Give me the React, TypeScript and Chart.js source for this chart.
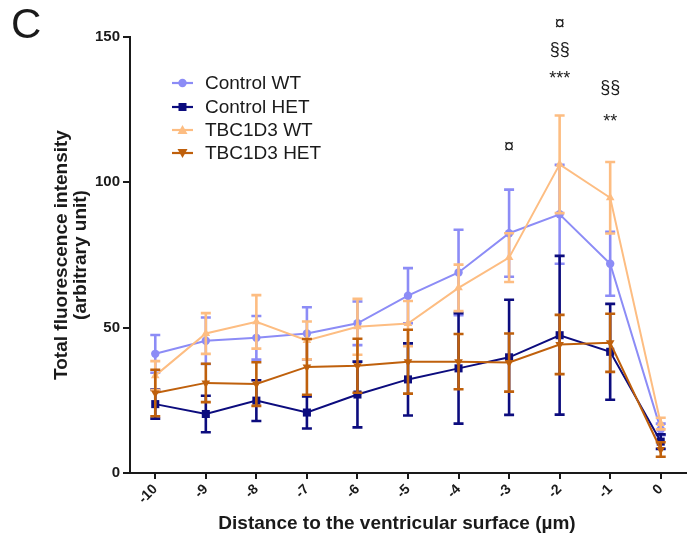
import React, { useEffect, useRef } from 'react';
import { Chart, registerables } from 'chart.js';

Chart.register(...registerables);

// ---- data ----
const labels = ['-10', '-9', '-8', '-7', '-6', '-5', '-4', '-3', '-2', '-1', '0'];

const controlWT = [41, 45.5, 46.5, 48, 51.5, 61, 69, 82.5, 89, 72, 15];
const controlWTErr = [6.5, 8, 7.5, 9, 7.5, 9.5, 14.7, 15, 17, 11, 2];

const controlHET = [23.7, 20.3, 24.9, 20.8, 27, 32.2, 36, 39.8, 47.4, 41.7, 10.8];
const controlHETErr = [5, 6.3, 7, 5.5, 11.3, 12.4, 19, 19.8, 27.3, 16.5, 2.5];

const tbcWT = [33.5, 48, 52, 45.6, 50.3, 51.4, 63.7, 74.1, 106.2, 94.7, 17];
const tbcWTErr = [5, 7, 9.2, 6.5, 9.6, 7.8, 8, 8.4, 16.8, 12.3, 2];

const tbcHET = [27.5, 31, 30.6, 36.5, 36.9, 38.3, 38.3, 38, 44.2, 44.8, 8.1];
const tbcHETErr = [8, 6.6, 7.5, 9.6, 9.3, 11, 9.5, 10, 10.2, 10, 2.5];

const seriesNames = ['Control WT', 'Control HET', 'TBC1D3 WT', 'TBC1D3 HET'];
const seriesColors = ['#8c8cf6', '#0c0c7e', '#fdbd82', '#bf600c'];

const yTicks = [0, 50, 100, 150];

const annotText = ['¤', '¤', '§§', '***', '§§', '**'];
const annotX = ['-3', '-2', '-2', '-2', '-1', '-1'];
const annotY = [112, 154.6, 145.4, 135.6, 132.3, 120.8];

const xTitle = 'Distance to the ventricular surface (µm)';
const yTitle = ['Total fluorescence intensity', '(arbitrary unit)'];
const panelLetter = 'C';

const FONT = '"Liberation Sans", Arial, Helvetica, sans-serif';
const INK = '#1a1a1a';

function drawMarker(ctx: CanvasRenderingContext2D, style: string, x: number, y: number, color: string) {
  ctx.save();
  ctx.fillStyle = color;
  ctx.beginPath();
  if (style === 'circle') {
    ctx.arc(x, y, 4.2, 0, Math.PI * 2);
  } else if (style === 'rect') {
    ctx.rect(x - 4, y - 4, 8, 8);
  } else if (style === 'up') {
    ctx.moveTo(x, y - 5);
    ctx.lineTo(x + 5, y + 4);
    ctx.lineTo(x - 5, y + 4);
    ctx.closePath();
  } else {
    ctx.moveTo(x, y + 5);
    ctx.lineTo(x + 5, y - 4);
    ctx.lineTo(x - 5, y - 4);
    ctx.closePath();
  }
  ctx.fill();
  ctx.restore();
}

const markerStyles = ['circle', 'rect', 'up', 'down'];

const errorBarPlugin = {
  id: 'errorBars',
  beforeDatasetDraw(chart: any, args: any) {
    const ds = chart.data.datasets[args.index];
    const err: number[] = ds.errors;
    if (!err) return;
    const ys = chart.scales.y;
    const ctx: CanvasRenderingContext2D = chart.ctx;
    ctx.save();
    ctx.strokeStyle = ds.borderColor;
    ctx.lineWidth = 2.6;
    args.meta.data.forEach((pt: any, i: number) => {
      const v = ds.data[i];
      const e = err[i];
      const x = pt.x;
      const yt = ys.getPixelForValue(v + e);
      const yb = ys.getPixelForValue(v - e);
      ctx.beginPath();
      ctx.moveTo(x, yt);
      ctx.lineTo(x, yb);
      ctx.moveTo(x - 5, yt);
      ctx.lineTo(x + 5, yt);
      ctx.moveTo(x - 5, yb);
      ctx.lineTo(x + 5, yb);
      ctx.stroke();
    });
    ctx.restore();
  },
};

const decorPlugin = {
  id: 'decor',
  afterDraw(chart: any) {
    const ctx: CanvasRenderingContext2D = chart.ctx;
    const xs = chart.scales.x;
    const ys = chart.scales.y;
    ctx.save();
    ctx.fillStyle = INK;

    // panel letter
    ctx.font = `42px ${FONT}`;
    ctx.textAlign = 'left';
    ctx.textBaseline = 'alphabetic';
    ctx.fillText(panelLetter, 11, 38);

    // y title (two lines, rotated)
    ctx.font = `bold 19px ${FONT}`;
    ctx.textAlign = 'center';
    ctx.textBaseline = 'middle';
    const cy = 255;
    [62, 81].forEach((x, i) => {
      ctx.save();
      ctx.translate(x, cy);
      ctx.rotate(-Math.PI / 2);
      ctx.fillText(yTitle[i], 0, 0);
      ctx.restore();
    });

    // x title
    ctx.font = `bold 19px ${FONT}`;
    ctx.textAlign = 'center';
    ctx.textBaseline = 'alphabetic';
    ctx.fillText(xTitle, 397, 529);

    // annotations
    ctx.font = `18px ${FONT}`;
    ctx.textAlign = 'center';
    ctx.textBaseline = 'middle';
    annotText.forEach((t, i) => {
      const x = xs.getPixelForValue(labels.indexOf(annotX[i]));
      const y = ys.getPixelForValue(annotY[i]);
      ctx.fillText(t, x, y);
    });

    // legend
    ctx.font = `19px ${FONT}`;
    ctx.textAlign = 'left';
    ctx.textBaseline = 'middle';
    const rows = [83, 107, 130, 153];
    seriesNames.forEach((name, i) => {
      const y = rows[i];
      ctx.strokeStyle = seriesColors[i];
      ctx.lineWidth = 2.2;
      ctx.beginPath();
      ctx.moveTo(172, y);
      ctx.lineTo(193, y);
      ctx.stroke();
      drawMarker(ctx, markerStyles[i], 182.5, y, seriesColors[i]);
      ctx.fillStyle = INK;
      ctx.fillText(name, 205, y + 1);
    });
    ctx.restore();
  },
};

export default function App() {
  const ref = useRef<HTMLCanvasElement | null>(null);

  useEffect(() => {
    document.body.style.margin = '0';
    const canvas = ref.current;
    if (!canvas) return;

    const mk = (label: string, data: number[], errors: number[], color: string, style: string, rot: number, radius: number, order: number) => ({
      label,
      data,
      errors,
      borderColor: color,
      backgroundColor: color,
      borderWidth: 2,
      pointStyle: style,
      pointRotation: rot,
      pointRadius: radius,
      pointBorderWidth: 0,
      pointBackgroundColor: color,
      tension: 0,
      order,
      clip: false,
    });

    const chart = new Chart(canvas, {
      type: 'line',
      data: {
        labels,
        datasets: [
          mk(seriesNames[0], controlWT, controlWTErr, seriesColors[0], 'circle', 0, 4.2, 4),
          mk(seriesNames[1], controlHET, controlHETErr, seriesColors[1], 'rect', 0, 5.7, 3),
          mk(seriesNames[2], tbcWT, tbcWTErr, seriesColors[2], 'triangle', 0, 5, 2),
          mk(seriesNames[3], tbcHET, tbcHETErr, seriesColors[3], 'triangle', 180, 5, 1),
        ] as any,
      },
      options: {
        responsive: false,
        animation: false,
        devicePixelRatio: 1,
        layout: { padding: { top: 37, right: 7, left: 0, bottom: 0 } },
        plugins: {
          legend: { display: false },
          tooltip: { enabled: false },
        },
        scales: {
          x: {
            type: 'category',
            offset: true,
            grid: {
              display: true,
              offset: false,
              drawOnChartArea: false,
              drawTicks: true,
              tickLength: 6,
              color: INK,
              lineWidth: 2,
            },
            border: { display: true, color: INK, width: 2 },
            ticks: {
              minRotation: 45,
              maxRotation: 45,
              autoSkip: false,
              padding: 2,
              color: INK,
              font: { family: FONT, size: 14, weight: 'bold' },
            },
            afterFit: (s: any) => {
              s.height = 61;
            },
          },
          y: {
            type: 'linear',
            min: 0,
            max: 150,
            afterBuildTicks: (s: any) => {
              s.ticks = yTicks.map((v) => ({ value: v }));
            },
            grid: {
              display: true,
              drawOnChartArea: false,
              drawTicks: true,
              tickLength: 7,
              color: INK,
              lineWidth: 2,
            },
            border: { display: true, color: INK, width: 2 },
            ticks: {
              padding: 3,
              color: INK,
              font: { family: FONT, size: 15, weight: 'bold' },
            },
            afterFit: (s: any) => {
              s.width = 130;
            },
          },
        },
      } as any,
      plugins: [errorBarPlugin, decorPlugin],
    });
    return () => chart.destroy();
  }, []);

  return (
    <div style={{ width: 693, height: 534, background: '#fff' }}>
      <canvas ref={ref} width={693} height={534} style={{ display: 'block' }} />
    </div>
  );
}
